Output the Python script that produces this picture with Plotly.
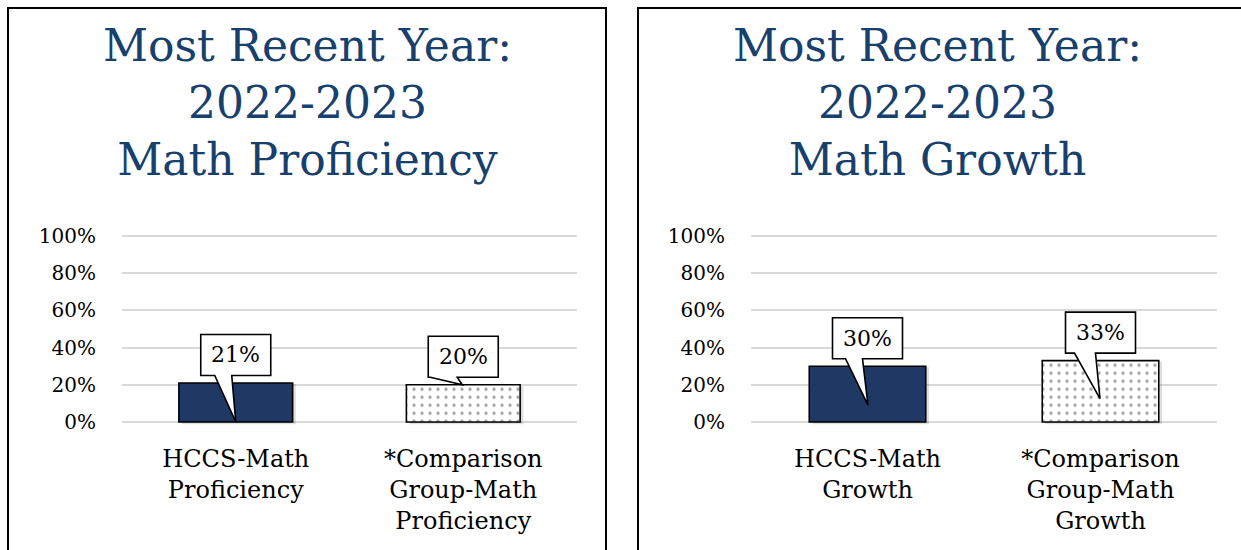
import plotly.graph_objects as go

# ---------------- data ----------------
titles = [
    "Most Recent Year:<br>2022-2023<br>Math Proficiency",
    "Most Recent Year:<br>2022-2023<br>Math Growth",
]
prof_labels = ["HCCS-Math<br>Proficiency", "*Comparison<br>Group-Math<br>Proficiency"]
growth_labels = ["HCCS-Math<br>Growth", "*Comparison<br>Group-Math<br>Growth"]
prof_values = [21, 20]
growth_values = [30, 33]
y_ticks = [0, 20, 40, 60, 80, 100]
y_tick_labels = ["0%", "20%", "40%", "60%", "80%", "100%"]

# ---------------- style ----------------
W, H = 1241, 550
FONT = "DejaVu Serif"
TITLE_COLOR = "#17406D"
NAVY = "#203864"
GRID = "#D9D9D9"

# panel geometry in pixels
panel_x_px = [(122, 577), (751, 1217)]
plot_y_px = (236, 422)          # pixel rows of 100% and 0%
y_pad = 1.5                     # small range padding so edge gridlines are drawn
title_cx_px = [307, 937]
title_cy_px = 103
# callout styling (pixel offsets, relative to bar top centre)
box_dy = 28
box_w, box_h = 70, 41
wedge_base = [[(-21, -4), (-33, -6)], [(-22, -5), (-26, -5)]]
wedge_tip = [[(0, -39), (-1, 0)], [(0.5, -39), (-0.5, -38)]]

panels = [
    (prof_labels, prof_values),
    (growth_labels, growth_values),
]

fig = go.Figure()
shapes = []
annotations = []

def px2paper_x(px):
    return px / W

def px2paper_y(py):
    return 1 - py / H

px_per_unit = (plot_y_px[1] - plot_y_px[0]) / 100.0
dom_top = plot_y_px[0] - y_pad * px_per_unit
dom_bot = plot_y_px[1] + y_pad * px_per_unit

for k, (labels, values) in enumerate(panels):
    suffix = "" if k == 0 else str(k + 1)
    xname, yname = "x" + suffix, "y" + suffix
    xs = list(range(len(values)))
    # soft shadow behind the bars
    fig.add_trace(go.Bar(
        x=xs, y=[v + 0.6 for v in values], base=-1.2,
        xaxis=xname, yaxis=yname, width=0.5, offset=-0.25 + 0.014,
        marker=dict(color="rgba(0,0,0,0.13)", line=dict(width=0)),
        hoverinfo="skip", showlegend=False,
    ))
    fig.add_trace(go.Bar(
        x=xs, y=values,
        xaxis=xname, yaxis=yname, width=0.5, offset=-0.25,
        marker=dict(
            color=[NAVY, "white"],
            line=dict(color="black", width=1.6),
            pattern=dict(shape=["", "."], fgcolor="black", bgcolor="white",
                         size=8, solidity=0.14),
        ),
        hoverinfo="skip", showlegend=False,
    ))
    x0, x1 = panel_x_px[k]
    fig.layout["xaxis" + suffix] = dict(
        domain=[px2paper_x(x0), px2paper_x(x1)], range=[-0.5, 1.5],
        tickmode="array", tickvals=xs, ticktext=labels,
        showgrid=False, zeroline=False, showline=False, ticks="",
        tickfont=dict(family=FONT, size=24, color="black"),
        ticklabelstandoff=17, anchor=yname, fixedrange=True, automargin=False,
    )
    fig.layout["yaxis" + suffix] = dict(
        domain=[px2paper_y(dom_bot), px2paper_y(dom_top)],
        range=[-y_pad, 100 + y_pad], tickmode="array", tickvals=y_ticks,
        ticktext=y_tick_labels,
        showgrid=True, gridcolor=GRID, gridwidth=1.6,
        zeroline=False, showline=False, ticks="",
        tickfont=dict(family=FONT, size=20, color="black"),
        ticklabelstandoff=25, anchor=xname, fixedrange=True, automargin=False,
    )
    annotations.append(dict(
        text=titles[k], xref="paper", yref="paper",
        x=px2paper_x(title_cx_px[k]), y=px2paper_y(title_cy_px),
        xanchor="center", yanchor="middle", showarrow=False,
        font=dict(family=FONT, size=44, color=TITLE_COLOR),
    ))
    for i, v in enumerate(values):
        bl, br = box_dy - box_h / 2, box_dy + box_h / 2
        hx0, hx1 = -box_w / 2, box_w / 2
        wl, wr = wedge_base[k][i]
        tx, ty = wedge_tip[k][i]
        path = (f"M{hx0},{bl} L{hx0},{br} L{hx1},{br} L{hx1},{bl} "
                f"L{wr},{bl} L{tx},{ty} L{wl},{bl} Z")
        shapes.append(dict(
            type="path", xref=xname, yref=yname,
            xsizemode="pixel", ysizemode="pixel", xanchor=i, yanchor=v,
            path=path, fillcolor="white", line=dict(color="black", width=1.6),
            layer="above",
        ))
        annotations.append(dict(
            text=f"{v}%", xref=xname, yref=yname, x=i, y=v, yshift=box_dy,
            showarrow=False, font=dict(family=FONT, size=22, color="black"),
        ))

# panel borders (open at the bottom / right like the cropped reference)
shapes.append(dict(type="path", xref="paper", yref="paper",
                   path=f"M{px2paper_x(8)},-0.1 L{px2paper_x(8)},{px2paper_y(8)} "
                        f"L{px2paper_x(606)},{px2paper_y(8)} L{px2paper_x(606)},-0.1",
                   line=dict(color="black", width=2)))
shapes.append(dict(type="path", xref="paper", yref="paper",
                   path=f"M{px2paper_x(638)},-0.1 L{px2paper_x(638)},{px2paper_y(8)} "
                        f"L1.1,{px2paper_y(8)}",
                   line=dict(color="black", width=2)))

fig.update_layout(
    width=W, height=H, margin=dict(l=0, r=0, t=0, b=0, pad=0, autoexpand=False),
    paper_bgcolor="white", plot_bgcolor="white", showlegend=False,
    barmode="overlay",
    shapes=shapes, annotations=annotations,
    font=dict(family=FONT, color="black"),
)

fig.write_html(
    "out.html",
    config={"displayModeBar": False},
    post_script="document.body.style.margin='0';document.body.style.overflow='hidden';",
)
